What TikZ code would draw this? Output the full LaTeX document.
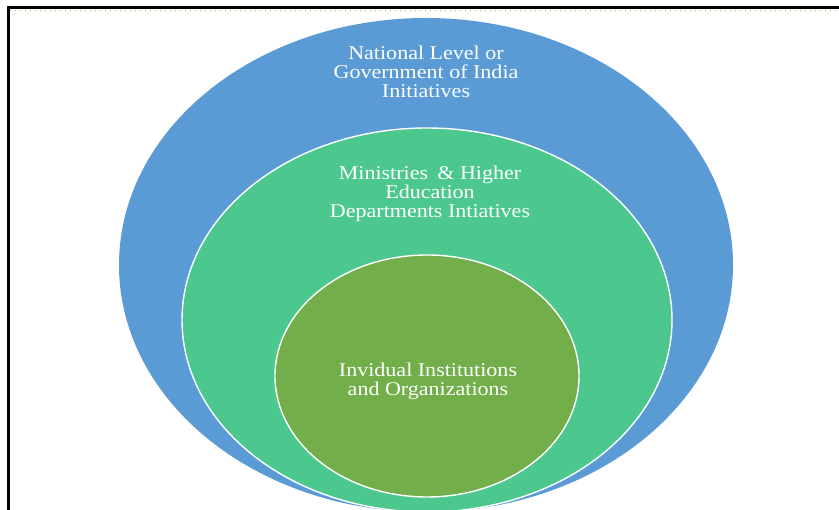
\documentclass[tikz,border=0pt]{standalone}
\usepackage{fontspec}
\setmainfont{Liberation Serif}
\definecolor{natblue}{HTML}{5B9BD5}
\definecolor{minigreen}{HTML}{4CC88F}
\definecolor{instgreen}{HTML}{72AF4A}
\definecolor{tickgreen}{HTML}{7AC943}
\tikzset{
  level/.style={draw=white, line width=1.4pt},
  leveltext/.style={text=white, align=center, xscale=1.13, font=\fontsize{19.5}{19}\selectfont},
}
\begin{document}
\begin{tikzpicture}[x=1pt,y=-1pt]
  \useasboundingbox (0,0) rectangle (839,510);
  \begin{scope}
    \clip (0,0) rectangle (839,510);
    % nested levels, outermost first
    \fill[natblue] (426,265) ellipse [x radius=307, y radius=247];
    \filldraw[level, fill=minigreen] (427,320) ellipse [x radius=245, y radius=192];
    \filldraw[level, fill=instgreen] (427,376) ellipse [x radius=152, y radius=121];
  \end{scope}
  % frame
  \draw[tickgreen, line width=1pt, dash pattern=on 1pt off 4pt] (10,10.8) -- (839,10.8);
  \draw[black, line width=3pt] (8,510) -- (8,8) -- (839,8);
  % labels
  \node[leveltext] (national) at (426,72) {National Level or\\Government of India\\Initiatives};
  \node[leveltext] (ministries) at (430,194) {Ministries \,\& Higher\\Education\\Departments Intiatives};
  \node[leveltext] (institutions) at (428,381) {Invidual Institutions\\and Organizations};
\end{tikzpicture}
\end{document}
